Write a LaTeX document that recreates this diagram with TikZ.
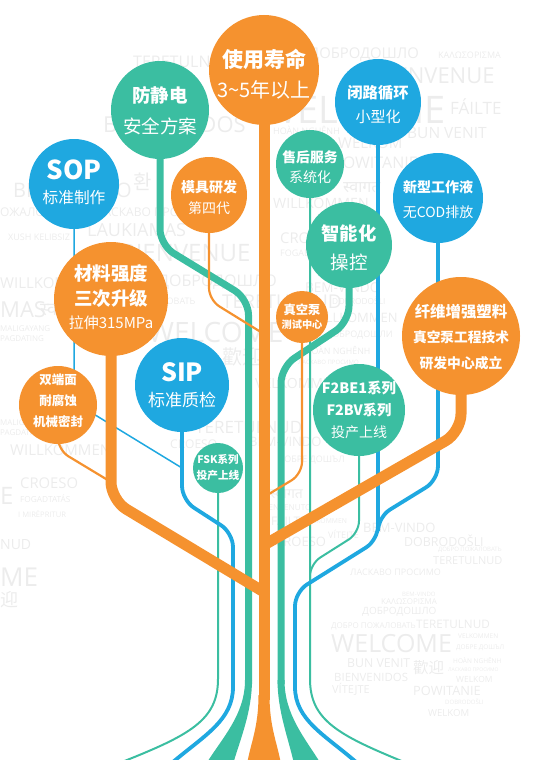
\documentclass[tikz,border=0pt]{standalone}
\usepackage{fontspec}
\setmainfont{Open Sans}
\newfontfamily\cjk{Noto Sans CJK SC}
\newfontfamily\devfont[Script=Devanagari]{Noto Sans}
\definecolor{cOr}{HTML}{F5922F}
\definecolor{cTe}{HTML}{3BBEA1}
\definecolor{cBl}{HTML}{1FA8E0}
\definecolor{cBg}{gray}{0.925}
\newcommand\fb[1]{\cjk\bfseries\fontsize{#1}{#1}\selectfont}
\newcommand\fr[1]{\cjk\fontsize{#1}{#1}\selectfont}
\newcounter{bgn}
\newcommand\bgw[4]{\stepcounter{bgn}\node[bgword,font=\fontsize{#3}{#3}\selectfont] (bg\arabic{bgn}) at (#1,#2) {#4};}
\pgfdeclarelayer{words}
\pgfdeclarelayer{lines}
\pgfsetlayers{words,lines,main}
\begin{document}
\begin{tikzpicture}[x=1pt,y=-1pt,
  bgword/.style={text=cBg, inner sep=0pt, anchor=west},
  bub/.style={circle, inner sep=0pt, draw=none},
  lab/.style={text=white, inner sep=0pt, anchor=center},
  othick/.style={draw=cOr, line width=11pt, rounded corners=18pt},
  othin/.style={draw=cOr, line width=2.2pt, rounded corners=12pt},
  tthick/.style={draw=cTe, line width=7pt, rounded corners=16pt},
  tthin/.style={draw=cTe, line width=2pt, rounded corners=12pt},
  bmed/.style={draw=cBl, line width=3.8pt, rounded corners=14pt},
  bthin/.style={draw=cBl, line width=1.5pt, rounded corners=10pt}]
\useasboundingbox (0,0) rectangle (543,760);

% ---------- bubbles ----------
\node[bub,fill=cOr,minimum size=110pt] (life) at (264,70) {};
\node[lab,font=\fb{21}] (lifeA) at (264,59) {使用寿命};
\node[lab,font=\fr{20}] (lifeB) at (264,90) {3\textasciitilde 5年以上};

\node[bub,fill=cTe,minimum size=98pt] (fang) at (160,110) {};
\node[lab,font=\fb{18.5}] (fangA) at (160,95) {防静电};
\node[lab,font=\fr{18.5}] (fangB) at (160,126) {安全方案};

\node[bub,fill=cBl,minimum size=90pt] (sop) at (74,184) {};
\node[lab,font=\fb{26}] (sopA) at (74,170) {SOP};
\node[lab,font=\fr{15.7}] (sopB) at (74,198) {标准制作};

\node[bub,fill=cOr,minimum size=76pt] (mold) at (209,195) {};
\node[lab,font=\fb{14}] (moldA) at (209,187) {模具研发};
\node[lab,font=\fr{14}] (moldB) at (209,208) {第四代};

\node[bub,fill=cBl,minimum size=86pt] (bilu) at (378,102) {};
\node[lab,font=\fb{15.3}] (biluA) at (378,93) {闭路循环};
\node[lab,font=\fr{15}] (biluB) at (378,117) {小型化};

\node[bub,fill=cTe,minimum size=68pt] (shou) at (310,164) {};
\node[lab,font=\fb{13.8}] (shouA) at (310,157) {售后服务};
\node[lab,font=\fr{14}] (shouB) at (310,177) {系统化};

\node[bub,fill=cBl,minimum size=90pt] (xin) at (438,198) {};
\node[lab,font=\fb{14}] (xinA) at (438,187) {新型工作液};
\node[lab,font=\fr{14}] (xinB) at (438,212) {无COD排放};

\node[bub,fill=cTe,minimum size=86pt] (zhi) at (349,245) {};
\node[lab,font=\fb{18.3}] (zhiA) at (349,233) {智能化};
\node[lab,font=\fr{18.5}] (zhiB) at (349,262) {操控};

\node[bub,fill=cOr,minimum size=114pt] (cai) at (111,299) {};
\node[lab,font=\fb{18.5}] (caiA) at (111,273) {材料强度};
\node[lab,font=\fb{18.5}] (caiB) at (111,298) {三次升级};
\node[lab,font=\fr{15}] (caiC) at (111,323) {拉伸315MPa};

\node[bub,fill=cOr,minimum size=52pt] (zhen) at (302,317) {};
\node[lab,font=\fb{12.3}] (zhenA) at (302,310) {真空泵};
\node[lab,font=\fb{10.2}] (zhenB) at (302,325) {测试中心};

\node[bub,fill=cOr,minimum size=118pt] (xian) at (461,336) {};
\node[lab,font=\fb{15.4}] (xianA) at (461,312) {纤维增强塑料};
\node[lab,font=\fb{13.7}] (xianB) at (461,337) {真空泵工程技术};
\node[lab,font=\fb{13.8}] (xianC) at (461,363) {研发中心成立};

\node[bub,fill=cBl,minimum size=94pt] (sip) at (182,385) {};
\node[lab,font=\fb{25}] (sipA) at (182,372) {SIP};
\node[lab,font=\fr{17}] (sipB) at (182,400) {标准质检};

\node[bub,fill=cOr,minimum size=78pt] (shuang) at (58,405) {};
\node[lab,font=\fb{12.5}] (shuangA) at (58,380) {双端面};
\node[lab,font=\fb{12.5}] (shuangB) at (58,401) {耐腐蚀};
\node[lab,font=\fb{12.5}] (shuangC) at (58,422) {机械密封};

\node[bub,fill=cTe,minimum size=92pt] (f2) at (359,410) {};
\node[lab,font=\fb{14.4}] (f2A) at (359,388) {F2BE1系列};
\node[lab,font=\fb{14.3}] (f2B) at (359,410) {F2BV系列};
\node[lab,font=\fr{14}] (f2C) at (359,432) {投产上线};

\node[bub,fill=cTe,minimum size=50pt] (fsk) at (218,468) {};
\node[lab,font=\fb{10.5}] (fskA) at (218,460) {FSK系列};
\node[lab,font=\fb{10.7}] (fskB) at (218,475) {投产上线};

% ground points
\coordinate (gL3) at (122,762);
\coordinate (gL2) at (173,762);
\coordinate (gR2) at (356,762);
\coordinate (gR3) at (404,762);
\coordinate (tb) at (264,700);

% ---------- connectors ----------
\begin{pgfonlayer}{lines}
\draw[bthin] (sop.center) -- (74,402) -- (182,468);
\draw[tthin] (shou.center) -- (310,667) .. controls (310,720) and (338,735) .. (gR3);
\draw[tthin] (f2.center) -- (359,533) -- (310,564) -- (310,580);
\draw[tthin] (fsk.center) -- (218,667) .. controls (218,720) and (190,735) .. (gL3);
\draw[bmed] (sip.center) -- (182,500) -- (233,533) -- (233,673) .. controls (233,720) and (205,735) .. (gL2);
\draw[bmed] (bilu.center) -- (378,540) -- (295,592) -- (295,673) .. controls (295,720) and (325,735) .. (gR2);
\draw[bmed] (xin.center) -- (438,480) -- (378,517) -- (378,530);
\draw[tthick] (fang.center) -- (160,245) -- (248.5,299) -- (248.5,684);
\fill[cTe] (245,680) .. controls (245,715) and (222,738) .. (206,764) -- (233,764) .. controls (240,740) and (252,712) .. (252,680) -- cycle;
\draw[tthick] (zhi.center) -- (349,322) -- (281,367) -- (281,684);
\fill[cTe] (277.5,680) .. controls (277.5,712) and (289,740) .. (294,764) -- (321,764) .. controls (305,738) and (284.5,715) .. (284.5,680) -- cycle;
\draw[othin] (mold.center) -- (209,300) -- (264,334);
\draw[othin] (zhen.center) -- (302,474) -- (264,497);
\draw[othin] (shuang.center) -- (58,450) -- (111,482);
\draw[othick] (cai.center) -- (111,500) -- (264,592);
\draw[othick] (xian.center) -- (461,432) -- (264,545);
\draw[draw=cOr,line width=11pt] (life.center) -- (tb);
\fill[cOr] (258.5,695) .. controls (258.5,727) and (251,742) .. (247,764) -- (281,764) .. controls (277,742) and (269.5,727) .. (269.5,695) -- cycle;
\end{pgfonlayer}

% ---------- background words ----------
\begin{pgfonlayer}{words}
\bgw{309}{55}{14.8}{ДОБРОДОШЛО}
\bgw{438}{55}{9}{ΚΑΛΩΣΟΡΙΣΜΑ}
\bgw{375}{76}{22}{BIENVENUE}
\bgw{262}{110}{38}{WELCOME}
\bgw{450}{107}{17}{FÁILTE}
\bgw{407}{133}{15.5}{BUN VENIT}
\bgw{273}{130}{9}{HOÀN NGHÊNH}
\bgw{338}{143}{15}{WELKOM}
\bgw{333}{163}{16}{POWITANIE}
\bgw{343}{188}{16}{\devfont स्वागत}
\bgw{273}{203}{14.2}{WILLKOMMEN}
\bgw{280}{238}{14.8}{CROESO}
\bgw{280}{252}{9}{FOGADTATÁS}
\bgw{133}{62}{16}{TERETULNUD}
\bgw{103}{125}{22}{BIENVENIDOS}
\bgw{13}{190}{20}{BIENVENIDO}
\bgw{133}{182}{20}{\cjk 환}
\bgw{0}{212}{12}{ОЖАЛОВАТЬ}
\bgw{95}{212}{12}{ЛАСКАВО ПРОСИМО}
\bgw{8}{237}{9}{XUSH KELIBSIZ}
\bgw{87}{230}{18}{LAUKIAMAS}
\bgw{120}{253}{24}{BIENVENUE}
\bgw{0}{283}{15}{WILLKOMMEN}
\bgw{158}{282}{16}{ДОБРОДОШЛО}
\bgw{100}{302}{9}{ДОБРО ПОЖАЛОВАТЬ}
\bgw{222}{302}{19}{TERETULNUD}
\bgw{0}{310}{22}{MAS}
\bgw{40}{310}{18}{\devfont स्वागत}
\bgw{0}{329}{8}{MALIGAYANG}
\bgw{0}{339}{8}{PAGDATING}
\bgw{148}{332}{28}{WELCOME}
\bgw{222}{357}{20}{\cjk 歡迎}
\bgw{195}{428}{17}{TERETULNUD}
\bgw{170}{444}{12}{CROESO}
\bgw{0}{423}{8}{MALIGAYANG}
\bgw{0}{433}{8}{PAGDATING}
\bgw{10}{450}{15}{WILLKOMMEN}
\bgw{20}{483}{14.8}{CROESO}
\bgw{20}{499}{8.3}{FOGADTATÁS}
\bgw{18}{514}{7.6}{I MIRËPRITUR}
\bgw{0}{496}{24}{E}
\bgw{0}{545}{14}{NUD}
\bgw{0}{577}{26}{ME}
\bgw{0}{600}{18}{\cjk 迎}
\bgw{305}{288}{13.5}{BEM-VINDO}
\bgw{332}{301}{8.3}{DOBRODOŠLI}
\bgw{310}{318}{13}{WILLKOMMEN}
\bgw{326}{335}{9}{ДОБРОДОШЛИ}
\bgw{305}{350}{8.8}{HOÀN NGHÊNH}
\bgw{298}{362}{6}{ЛАСКАВО ПРОСИМО}
\bgw{255}{383}{14}{VELKOMMEN}
\bgw{249}{442}{13}{BEM-VINDO}
\bgw{278}{460}{9}{ДОБРЕ ДОШЪЛ}
\bgw{270}{494}{14}{\devfont स्वागत}
\bgw{263}{508}{8.2}{BENVENUTO}
\bgw{271}{520}{11.8}{FÁILTE}
\bgw{301}{521}{6.8}{WILLKOMMEN}
\bgw{328}{535}{9}{VÍTEJTE}
\bgw{275}{542}{13}{CROESO}
\bgw{363}{528}{13}{BEM-VINDO}
\bgw{404}{541}{12.4}{DOBRODOŠLI}
\bgw{438}{550}{6}{ДОБРО ПОЖАЛОВАТЬ}
\bgw{433}{561}{11}{TERETULNUD}
\bgw{350}{572}{9}{ЛАСКАВО ПРОСИМО}
\bgw{402}{594}{6}{BEM-VINDO}
\bgw{381}{602}{8}{ΚΑΛΩΣΟΡΙΣΜΑ}
\bgw{362}{612}{10}{ДОБРОДОШЛО}
\bgw{331}{626}{8}{ДОБРО ПОЖАЛОВАТЬ}
\bgw{416}{624}{11.7}{TERETULNUD}
\bgw{331}{644}{25}{WELCOME}
\bgw{458}{636}{6.5}{VELKOMMEN}
\bgw{456}{648}{6.5}{ДОБРЕ ДОШЪЛ}
\bgw{453}{660}{6.5}{HOÀN NGHÊNH}
\bgw{347}{663}{12.3}{BUN VENIT}
\bgw{413}{668}{15.5}{\cjk 歡迎}
\bgw{448}{670}{5}{ЛАСКАВО ПРОСИМО}
\bgw{334}{677}{11.4}{BIENVENIDOS}
\bgw{456}{679}{8.5}{WELKOM}
\bgw{332}{689}{11}{VÍTEJTE}
\bgw{413}{691}{12.8}{POWITANIE}
\bgw{445}{702}{6}{DOBRODOŠLI}
\bgw{428}{713}{9.6}{WELKOM}
\end{pgfonlayer}
\end{tikzpicture}
\end{document}
